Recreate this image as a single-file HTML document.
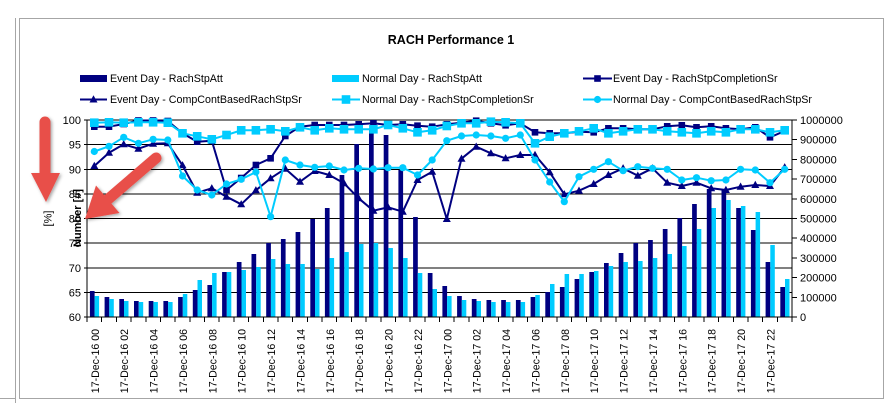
<!DOCTYPE html>
<html><head><meta charset="utf-8"><style>
html,body{margin:0;padding:0;background:#fff;}
svg{display:block;font-family:"Liberation Sans",Arial,sans-serif;}
</style></head><body>
<svg width="889" height="403" viewBox="0 0 889 403" xmlns="http://www.w3.org/2000/svg">
<defs>
<marker id="mA" markerUnits="userSpaceOnUse" markerWidth="10" markerHeight="10" refX="5" refY="5"><rect x="1.7" y="1.7" width="6.6" height="6.6" fill="#000080"/></marker>
<marker id="mB" markerUnits="userSpaceOnUse" markerWidth="12" markerHeight="12" refX="6" refY="6"><rect x="1.7" y="1.7" width="8.6" height="8.6" fill="#00CCFF"/></marker>
<marker id="mC" markerUnits="userSpaceOnUse" markerWidth="12" markerHeight="12" refX="6" refY="6"><polygon points="6,1.8 10,9 2,9" fill="#000080"/></marker>
<marker id="mD" markerUnits="userSpaceOnUse" markerWidth="12" markerHeight="12" refX="6" refY="6"><circle cx="6" cy="6" r="3.6" fill="#00CCFF"/></marker>
<filter id="sh" x="-30%" y="-30%" width="160%" height="160%"><feDropShadow dx="1.5" dy="1.5" stdDeviation="1.5" flood-color="#000" flood-opacity="0.35"/></filter>
</defs>

<!-- frame -->
<g stroke="#a6a6a6" stroke-width="1" shape-rendering="crispEdges" fill="none">
<line x1="15.5" y1="18" x2="15.5" y2="403"/>
<line x1="19.5" y1="18" x2="19.5" y2="398"/>
<line x1="19.5" y1="18.5" x2="884" y2="18.5"/>
<line x1="883.5" y1="18" x2="883.5" y2="398"/>
<line x1="0" y1="398.5" x2="15" y2="398.5"/>
<line x1="19" y1="398.5" x2="884" y2="398.5"/>
</g>

<!-- title -->
<text x="451" y="44" text-anchor="middle" font-size="12.5" font-weight="bold">RACH Performance 1</text>

<!-- legend -->
<g font-size="10.7" fill="#000">
<rect x="80" y="75" width="27" height="7" fill="#000080"/>
<text x="110" y="82">Event Day - RachStpAtt</text>
<rect x="332" y="75" width="27" height="7" fill="#00CCFF"/>
<text x="362" y="82">Normal Day - RachStpAtt</text>
<polyline points="583,78.5 597.5,78.5 612,78.5" stroke="#000080" stroke-width="2" fill="none" marker-mid="url(#mA)"/>
<text x="613" y="82">Event Day - RachStpCompletionSr</text>
<polyline points="80,99.5 93.5,99.5 107,99.5" stroke="#000080" stroke-width="2" fill="none" marker-mid="url(#mC)"/>
<text x="110" y="103">Event Day - CompContBasedRachStpSr</text>
<polyline points="332,99.5 346,99.5 360,99.5" stroke="#00CCFF" stroke-width="2" fill="none" marker-mid="url(#mB)"/>
<text x="362" y="103">Normal Day - RachStpCompletionSr</text>
<polyline points="583,99.5 597.5,99.5 612,99.5" stroke="#00CCFF" stroke-width="2" fill="none" marker-mid="url(#mD)"/>
<text x="613" y="103">Normal Day - CompContBasedRachStpSr</text>
</g>

<!-- gridlines -->
<g stroke="#000" stroke-width="1" shape-rendering="crispEdges">
<line x1="87" y1="120" x2="792" y2="120"/>
<line x1="87" y1="144.6" x2="792" y2="144.6"/>
<line x1="87" y1="169.3" x2="792" y2="169.3"/>
<line x1="87" y1="193.9" x2="792" y2="193.9"/>
<line x1="87" y1="218.5" x2="792" y2="218.5"/>
<line x1="87" y1="243.1" x2="792" y2="243.1"/>
<line x1="87" y1="267.8" x2="792" y2="267.8"/>
<line x1="87" y1="292.4" x2="792" y2="292.4"/>
</g>

<!-- navy bars -->
<g fill="#000080">
<rect x="89.9" y="291" width="4.7" height="26"/>
<rect x="104.6" y="297" width="4.7" height="20"/>
<rect x="119.3" y="299" width="4.7" height="18"/>
<rect x="134.0" y="301" width="4.7" height="16"/>
<rect x="148.7" y="301" width="4.7" height="16"/>
<rect x="163.4" y="301" width="4.7" height="16"/>
<rect x="178.1" y="297" width="4.7" height="20"/>
<rect x="192.8" y="290" width="4.7" height="27"/>
<rect x="207.4" y="285" width="4.7" height="32"/>
<rect x="222.1" y="272" width="4.7" height="45"/>
<rect x="236.8" y="262" width="4.7" height="55"/>
<rect x="251.5" y="254" width="4.7" height="63"/>
<rect x="266.2" y="243" width="4.7" height="74"/>
<rect x="280.9" y="239" width="4.7" height="78"/>
<rect x="295.6" y="232" width="4.7" height="85"/>
<rect x="310.3" y="219" width="4.7" height="98"/>
<rect x="324.9" y="208" width="4.7" height="109"/>
<rect x="339.6" y="175" width="4.7" height="142"/>
<rect x="354.3" y="144" width="4.7" height="173"/>
<rect x="369.0" y="130" width="4.7" height="187"/>
<rect x="383.7" y="135" width="4.7" height="182"/>
<rect x="398.4" y="170" width="4.7" height="147"/>
<rect x="413.1" y="217" width="4.7" height="100"/>
<rect x="427.8" y="273" width="4.7" height="44"/>
<rect x="442.4" y="286" width="4.7" height="31"/>
<rect x="457.1" y="296" width="4.7" height="21"/>
<rect x="471.8" y="299" width="4.7" height="18"/>
<rect x="486.5" y="300" width="4.7" height="17"/>
<rect x="501.2" y="300" width="4.7" height="17"/>
<rect x="515.9" y="300" width="4.7" height="17"/>
<rect x="530.6" y="297" width="4.7" height="20"/>
<rect x="545.3" y="292" width="4.7" height="25"/>
<rect x="559.9" y="287" width="4.7" height="30"/>
<rect x="574.6" y="279" width="4.7" height="38"/>
<rect x="589.3" y="272" width="4.7" height="45"/>
<rect x="604.0" y="263" width="4.7" height="54"/>
<rect x="618.7" y="253" width="4.7" height="64"/>
<rect x="633.4" y="243" width="4.7" height="74"/>
<rect x="648.1" y="240" width="4.7" height="77"/>
<rect x="662.8" y="229" width="4.7" height="88"/>
<rect x="677.4" y="218" width="4.7" height="99"/>
<rect x="692.1" y="204" width="4.7" height="113"/>
<rect x="706.8" y="189" width="4.7" height="128"/>
<rect x="721.5" y="190" width="4.7" height="127"/>
<rect x="736.2" y="208" width="4.7" height="109"/>
<rect x="750.9" y="230" width="4.7" height="87"/>
<rect x="765.6" y="262" width="4.7" height="55"/>
<rect x="780.3" y="287" width="4.7" height="30"/>
</g>

<!-- cyan bars -->
<g fill="#00CCFF">
<rect x="94.6" y="296" width="4.5" height="21"/>
<rect x="109.3" y="299" width="4.5" height="18"/>
<rect x="124.0" y="301" width="4.5" height="16"/>
<rect x="138.7" y="302" width="4.5" height="15"/>
<rect x="153.4" y="302" width="4.5" height="15"/>
<rect x="168.1" y="302" width="4.5" height="15"/>
<rect x="182.8" y="294" width="4.5" height="23"/>
<rect x="197.5" y="280" width="4.5" height="37"/>
<rect x="212.1" y="273" width="4.5" height="44"/>
<rect x="226.8" y="272" width="4.5" height="45"/>
<rect x="241.5" y="270" width="4.5" height="47"/>
<rect x="256.2" y="267" width="4.5" height="50"/>
<rect x="270.9" y="259" width="4.5" height="58"/>
<rect x="285.6" y="264" width="4.5" height="53"/>
<rect x="300.3" y="264" width="4.5" height="53"/>
<rect x="315.0" y="269" width="4.5" height="48"/>
<rect x="329.6" y="258" width="4.5" height="59"/>
<rect x="344.3" y="252" width="4.5" height="65"/>
<rect x="359.0" y="244" width="4.5" height="73"/>
<rect x="373.7" y="243" width="4.5" height="74"/>
<rect x="388.4" y="248" width="4.5" height="69"/>
<rect x="403.1" y="258" width="4.5" height="59"/>
<rect x="417.8" y="273" width="4.5" height="44"/>
<rect x="432.5" y="289" width="4.5" height="28"/>
<rect x="447.1" y="296" width="4.5" height="21"/>
<rect x="461.8" y="300" width="4.5" height="17"/>
<rect x="476.5" y="301" width="4.5" height="16"/>
<rect x="491.2" y="302" width="4.5" height="15"/>
<rect x="505.9" y="302" width="4.5" height="15"/>
<rect x="520.6" y="302" width="4.5" height="15"/>
<rect x="535.3" y="295" width="4.5" height="22"/>
<rect x="550.0" y="284" width="4.5" height="33"/>
<rect x="564.6" y="274" width="4.5" height="43"/>
<rect x="579.3" y="274" width="4.5" height="43"/>
<rect x="594.0" y="271" width="4.5" height="46"/>
<rect x="608.7" y="266" width="4.5" height="51"/>
<rect x="623.4" y="262" width="4.5" height="55"/>
<rect x="638.1" y="261" width="4.5" height="56"/>
<rect x="652.8" y="258" width="4.5" height="59"/>
<rect x="667.5" y="254" width="4.5" height="63"/>
<rect x="682.1" y="246" width="4.5" height="71"/>
<rect x="696.8" y="229" width="4.5" height="88"/>
<rect x="711.5" y="208" width="4.5" height="109"/>
<rect x="726.2" y="200" width="4.5" height="117"/>
<rect x="740.9" y="206" width="4.5" height="111"/>
<rect x="755.6" y="212" width="4.5" height="105"/>
<rect x="770.3" y="245" width="4.5" height="72"/>
<rect x="785.0" y="279" width="4.5" height="38"/>
</g>

<!-- axes -->
<g stroke="#000" stroke-width="1" shape-rendering="crispEdges" fill="none">
<line x1="87" y1="120" x2="87" y2="317"/>
<line x1="792" y1="120" x2="792" y2="317"/>
<line x1="84" y1="317" x2="797" y2="317"/>
<path d="M84,120h3M84,144.6h3M84,169.3h3M84,193.9h3M84,218.5h3M84,243.1h3M84,267.8h3M84,292.4h3"/>
<path d="M792,120h5M792,139.7h5M792,159.4h5M792,179.1h5M792,198.8h5M792,218.5h5M792,238.2h5M792,257.9h5M792,277.6h5M792,297.3h5"/>
<path d="M87,317v5M101.7,317v5M116.4,317v5M131.1,317v5M145.8,317v5M160.4,317v5M175.1,317v5M189.8,317v5M204.5,317v5M219.2,317v5M233.9,317v5M248.6,317v5M263.3,317v5M277.9,317v5M292.6,317v5M307.3,317v5M322,317v5M336.7,317v5M351.4,317v5M366.1,317v5M380.8,317v5M395.4,317v5M410.1,317v5M424.8,317v5M439.5,317v5M454.2,317v5M468.9,317v5M483.6,317v5M498.3,317v5M512.9,317v5M527.6,317v5M542.3,317v5M557,317v5M571.7,317v5M586.4,317v5M601.1,317v5M615.8,317v5M630.4,317v5M645.1,317v5M659.8,317v5M674.5,317v5M689.2,317v5M703.9,317v5M718.6,317v5M733.3,317v5M747.9,317v5M762.6,317v5M777.3,317v5M792,317v5"/>
</g>

<!-- lines -->
<polyline fill="none" stroke="#000080" stroke-width="2" stroke-linejoin="round" marker-start="url(#mA)" marker-mid="url(#mA)" marker-end="url(#mA)" points="94.3,126.7 109.0,126.7 123.7,124 138.4,120.5 153.1,120.5 167.8,121 182.5,133.3 197.2,141.7 211.8,140.7 226.5,190 241.2,178 255.9,165 270.6,158.3 285.3,136 300.0,126.7 314.7,125 329.3,125 344.0,125 358.7,124.3 373.4,123.3 388.1,125 402.8,124.3 417.5,125.7 432.2,126.7 446.8,124.3 461.5,122.7 476.2,120.7 490.9,123.3 505.6,125.3 520.3,123.3 535.0,132.3 549.7,133.3 564.3,133.3 579.0,131.7 593.7,132.3 608.4,128.3 623.1,128.3 637.8,129.3 652.5,129.3 667.2,126.3 681.8,125.3 696.5,127.3 711.2,126.3 725.9,128.3 740.6,129.3 755.3,127.3 770.0,137.3 784.7,131"/>
<polyline fill="none" stroke="#000080" stroke-width="2" stroke-linejoin="round" marker-start="url(#mC)" marker-mid="url(#mC)" marker-end="url(#mC)" points="94.3,166 109.0,152.7 123.7,144.3 138.4,148.7 153.1,143.7 167.8,143.3 182.5,165.3 197.2,192.7 211.8,188.3 226.5,196.7 241.2,204.3 255.9,190.3 270.6,178.3 285.3,168.7 300.0,181.7 314.7,171 329.3,175 344.0,183.3 358.7,198.3 373.4,210.7 388.1,207.3 402.8,211.7 417.5,180 432.2,171.7 446.8,219 461.5,158.7 476.2,146.7 490.9,153.3 505.6,158.3 520.3,155 535.0,155 549.7,172.3 564.3,194.3 579.0,190.7 593.7,184 608.4,175 623.1,168.3 637.8,175.7 652.5,168.3 667.2,182.7 681.8,186 696.5,182.7 711.2,188.3 725.9,190 740.6,186.7 755.3,185 770.0,186 784.7,167.3"/>
<polyline fill="none" stroke="#00CCFF" stroke-width="2" stroke-linejoin="round" marker-start="url(#mB)" marker-mid="url(#mB)" marker-end="url(#mB)" points="94.3,122.7 109.0,122.3 123.7,122.7 138.4,122.3 153.1,122.3 167.8,122.7 182.5,133.3 197.2,136.3 211.8,139.3 226.5,135 241.2,130.3 255.9,130.3 270.6,129.3 285.3,131.3 300.0,127.3 314.7,130.3 329.3,128.3 344.0,129.3 358.7,129.3 373.4,129.3 388.1,125 402.8,128.3 417.5,132.3 432.2,130.3 446.8,126 461.5,123.3 476.2,123.3 490.9,121.7 505.6,122.3 520.3,123.3 535.0,143.3 549.7,136.7 564.3,133.3 579.0,131.3 593.7,128.3 608.4,133.3 623.1,131.3 637.8,129.3 652.5,129.3 667.2,131.3 681.8,132.3 696.5,133.3 711.2,131.3 725.9,132.3 740.6,129.3 755.3,129.3 770.0,132.3 784.7,130.3"/>
<polyline fill="none" stroke="#00CCFF" stroke-width="2" stroke-linejoin="round" marker-start="url(#mD)" marker-mid="url(#mD)" marker-end="url(#mD)" points="94.3,151.5 109.0,146.3 123.7,137.3 138.4,143.3 153.1,139.3 167.8,140 182.5,176 197.2,190 211.8,195 226.5,184 241.2,179.3 255.9,172 270.6,216.7 285.3,160 300.0,165 314.7,167.3 329.3,166 344.0,170 358.7,168.3 373.4,169 388.1,167.7 402.8,167.7 417.5,175 432.2,160 446.8,140.7 461.5,136 476.2,135 490.9,136 505.6,138.3 520.3,135 535.0,160 549.7,182 564.3,201.7 579.0,176.7 593.7,169.3 608.4,161.7 623.1,170.7 637.8,166.7 652.5,168.3 667.2,169.3 681.8,180 696.5,177.7 711.2,180.7 725.9,180 740.6,169.3 755.3,170 770.0,182.7 784.7,169.3"/>

<!-- left tick labels -->
<g font-size="11" text-anchor="end" fill="#000">
<text x="81" y="124">100</text>
<text x="81" y="148.6">95</text>
<text x="81" y="173.3">90</text>
<text x="81" y="197.9">85</text>
<text x="81" y="222.5">80</text>
<text x="81" y="247.1">75</text>
<text x="81" y="271.8">70</text>
<text x="81" y="296.4">65</text>
<text x="81" y="321">60</text>
</g>
<!-- right tick labels -->
<g font-size="11" fill="#000">
<text x="800" y="124">1000000</text>
<text x="800" y="143.7">900000</text>
<text x="800" y="163.4">800000</text>
<text x="800" y="183.1">700000</text>
<text x="800" y="202.8">600000</text>
<text x="800" y="222.5">500000</text>
<text x="800" y="242.2">400000</text>
<text x="800" y="261.9">300000</text>
<text x="800" y="281.6">200000</text>
<text x="800" y="301.3">100000</text>
<text x="800" y="321">0</text>
</g>

<!-- axis titles -->
<text transform="translate(51.5,218.5) rotate(-90)" text-anchor="middle" font-size="11">[%]</text>
<text transform="translate(81,218) rotate(-90)" text-anchor="middle" font-size="11" font-weight="bold">Number [#]</text>

<!-- x labels -->
<g font-size="10.6" text-anchor="end" fill="#000">
<text transform="translate(98.8,329) rotate(-90)">17-Dec-16 00</text>
<text transform="translate(128.2,329) rotate(-90)">17-Dec-16 02</text>
<text transform="translate(157.6,329) rotate(-90)">17-Dec-16 04</text>
<text transform="translate(187.0,329) rotate(-90)">17-Dec-16 06</text>
<text transform="translate(216.3,329) rotate(-90)">17-Dec-16 08</text>
<text transform="translate(245.7,329) rotate(-90)">17-Dec-16 10</text>
<text transform="translate(275.1,329) rotate(-90)">17-Dec-16 12</text>
<text transform="translate(304.5,329) rotate(-90)">17-Dec-16 14</text>
<text transform="translate(333.8,329) rotate(-90)">17-Dec-16 16</text>
<text transform="translate(363.2,329) rotate(-90)">17-Dec-16 18</text>
<text transform="translate(392.6,329) rotate(-90)">17-Dec-16 20</text>
<text transform="translate(422.0,329) rotate(-90)">17-Dec-16 22</text>
<text transform="translate(451.3,329) rotate(-90)">17-Dec-17 00</text>
<text transform="translate(480.7,329) rotate(-90)">17-Dec-17 02</text>
<text transform="translate(510.1,329) rotate(-90)">17-Dec-17 04</text>
<text transform="translate(539.5,329) rotate(-90)">17-Dec-17 06</text>
<text transform="translate(568.8,329) rotate(-90)">17-Dec-17 08</text>
<text transform="translate(598.2,329) rotate(-90)">17-Dec-17 10</text>
<text transform="translate(627.6,329) rotate(-90)">17-Dec-17 12</text>
<text transform="translate(657.0,329) rotate(-90)">17-Dec-17 14</text>
<text transform="translate(686.3,329) rotate(-90)">17-Dec-17 16</text>
<text transform="translate(715.7,329) rotate(-90)">17-Dec-17 18</text>
<text transform="translate(745.1,329) rotate(-90)">17-Dec-17 20</text>
<text transform="translate(774.5,329) rotate(-90)">17-Dec-17 22</text>
</g>

<!-- red annotation arrows -->
<g fill="#E8504A" filter="url(#sh)">
<path d="M39.5,122 a5.5,5.5 0 0 1 11,0 V173 H60 L46,202 L31,173 H39.5 Z"/>
<line x1="156" y1="158" x2="106" y2="201" stroke="#E8504A" stroke-width="11" stroke-linecap="round"/>
<polygon points="85,219 96,185.5 119.5,213"/>
</g>
</svg>
</body></html>
